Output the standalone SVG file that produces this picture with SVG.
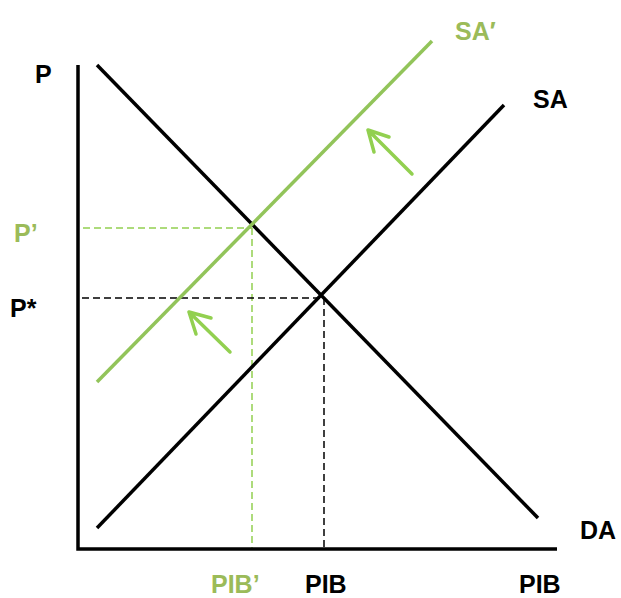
<svg xmlns="http://www.w3.org/2000/svg" width="621" height="598" viewBox="0 0 621 598">
<style>
.t{font-family:"Liberation Sans",Arial,sans-serif;font-weight:bold;font-size:25px;fill:#000}
.g{fill:#9BBB59}
.ax{stroke:#000;stroke-width:3.5;fill:none}
.cv{stroke:#000;stroke-width:3.5;fill:none}
.cvg{stroke:#92C45A;stroke-width:3.5;fill:none}
.dk{stroke:#000;stroke-width:1.5;stroke-dasharray:7,4;fill:none}
.dg{stroke:#92D050;stroke-width:1.5;stroke-dasharray:7,4;fill:none}
.ar{stroke:#92D050;stroke-width:3.5;fill:none;stroke-linecap:round;stroke-linejoin:round}
</style>
<rect width="621" height="598" fill="#fff"/>
<g id="connectors">
<line class="dg" x1="83" y1="228" x2="252" y2="228"/>
<line class="dg" x1="252" y1="228" x2="252" y2="549"/>
<line class="dk" x1="82" y1="298" x2="323" y2="298"/>
<line class="dk" x1="324" y1="298" x2="324" y2="549"/>
<path class="ar" d="M412,174 L368,130 M368,130 L389,137 M368,130 L374,152"/>
<path class="ar" d="M230,352 L189,312 M189,312 L211,318 M189,312 L196,334"/>
</g>
<g id="axes">
<polyline class="ax" points="78,65 78,549 557,549"/>
</g>
<g id="DA"><line class="cv" x1="97" y1="65" x2="538" y2="518"/></g>
<g id="SA"><line class="cv" x1="97" y1="528" x2="504" y2="105"/></g>
<g id="SAprime"><line class="cvg" x1="97" y1="382" x2="432" y2="41"/></g>
<g id="labels">
<text class="t" x="35" y="83">P</text>
<text class="t g" x="14" y="242">P’</text>
<text class="t" x="10" y="317">P*</text>
<text class="t g" x="455" y="40">SA′</text>
<text class="t" x="533" y="108">SA</text>
<text class="t" x="580" y="539">DA</text>
<text class="t g" x="211" y="593">PIB’</text>
<text class="t" x="305" y="593">PIB</text>
<text class="t" x="519" y="593">PIB</text>
</g>
</svg>
